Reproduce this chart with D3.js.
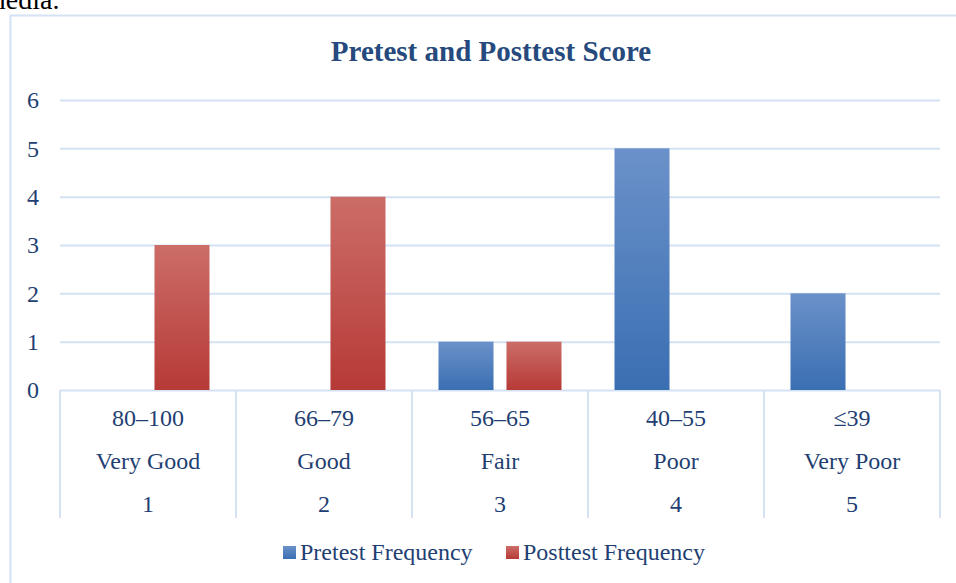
<!DOCTYPE html>
<html><head><meta charset="utf-8">
<script src="https://cdn.jsdelivr.net/npm/d3@7"></script>
<style>html,body{margin:0;padding:0;background:#fff;overflow:hidden}</style>
</head><body>
<svg id="c" width="956" height="583"></svg>
<script>
const ranges = ["80–100","66–79","56–65","40–55","≤39"];
const levels = ["Very Good","Good","Fair","Poor","Very Poor"];
const codes = ["1","2","3","4","5"];
const seriesNames = ["Pretest Frequency","Posttest Frequency"];
const pretest = [0,0,1,5,2];
const posttest = [3,4,1,0,0];
const yTicks = [0,1,2,3,4,5,6];

(function(){
const svg = d3.select("#c");
const font = "'Liberation Serif','Times New Roman',serif";
const textCol = "#1f3f73";
const gridCol = "#d5e2f3";

// document text above chart
svg.append("text").attr("x",-16).attr("y",9).attr("font-family",font).attr("font-size",28).attr("fill","#000").text("media.");

// chart border
svg.append("rect").attr("x",10.5).attr("y",15.5).attr("width",1000).attr("height",700)
  .attr("fill","none").attr("stroke",gridCol).attr("stroke-width",2);

const defs = svg.append("defs");
const grads = [["gBlue","#6b91c9","#3a6fb2"],["gRed","#cc6d68","#b63a36"]];
grads.forEach(([id,a,b])=>{
  const g = defs.append("linearGradient").attr("id",id).attr("x1",0).attr("y1",0).attr("x2",0).attr("y2",1);
  g.append("stop").attr("offset","0%").attr("stop-color",a);
  g.append("stop").attr("offset","100%").attr("stop-color",b);
});
const swatchFill = ["url(#gBlue)","url(#gRed)"];

const pl = 60, pr = 940, pt = 100, pb = 390;
const y = d3.scaleLinear().domain([0,6]).range([pb, pt]);
const x0 = d3.scaleBand().domain(codes).range([pl,pr]).paddingInner(0).paddingOuter(0);
const x1 = d3.scaleBand().domain(seriesNames).range([26.5, x0.bandwidth()-26.5]).paddingInner(0.191);

// gridlines
const yAxis = d3.axisLeft(y).tickValues(yTicks).tickSize(-(pr-pl)).tickPadding(21).tickFormat(d3.format("d"));
const ga = svg.append("g").attr("transform",`translate(${pl},0)`).call(yAxis);
ga.select(".domain").remove();
ga.selectAll(".tick line").attr("stroke",gridCol).attr("stroke-width",2);
ga.selectAll(".tick text").attr("font-family",font).attr("font-size",24).attr("fill",textCol).attr("dy","0.32em");

// category dividers
const dividers = x0.domain().map(d=>x0(d)).concat([pr]);
svg.append("g").selectAll("line").data(dividers).join("line")
  .attr("x1",d=>d).attr("x2",d=>d).attr("y1",pb).attr("y2",518)
  .attr("stroke",gridCol).attr("stroke-width",2);

// bars
const data = codes.map((c,i)=>({c, vals:[pretest[i],posttest[i]]}));
const grp = svg.append("g").selectAll("g").data(data).join("g")
  .attr("transform",d=>`translate(${x0(d.c)},0)`);
grp.selectAll("rect").data(d=>d.vals.map((v,j)=>({v,j})).filter(e=>e.v>0)).join("rect")
  .attr("x",d=>x1(seriesNames[d.j])).attr("width",x1.bandwidth())
  .attr("y",d=>y(d.v)).attr("height",d=>y(0)-y(d.v))
  .attr("fill",d=>swatchFill[d.j]);

// category labels (3 rows)
const rows = [[ranges,418],[levels,461],[codes,504]];
rows.forEach(([arr,yy])=>{
  svg.append("g").selectAll("text").data(arr).join("text")
    .attr("x",(d,i)=>x0(codes[i])+x0.bandwidth()/2).attr("y",yy).attr("dy","0.35em")
    .attr("text-anchor","middle").attr("font-family",font).attr("font-size",24).attr("fill",textCol)
    .text(d=>d);
});

// title
svg.append("text").attr("x",491).attr("y",51).attr("dy","0.35em").attr("text-anchor","middle")
  .attr("font-family",font).attr("font-size",29).attr("font-weight","bold").attr("fill","#264a7d")
  .text("Pretest and Posttest Score");

// legend
const legX = [283,506];
const lg = svg.append("g").selectAll("g").data(seriesNames).join("g")
  .attr("transform",(d,i)=>`translate(${legX[i]},552)`);
lg.append("rect").attr("x",0).attr("y",-6).attr("width",13).attr("height",13).attr("fill",(d,i)=>swatchFill[i]);
lg.append("text").attr("x",17).attr("y",0).attr("dy","0.35em").attr("font-family",font).attr("font-size",24).attr("fill",textCol).text(d=>d);
})();
</script>
</body></html>
